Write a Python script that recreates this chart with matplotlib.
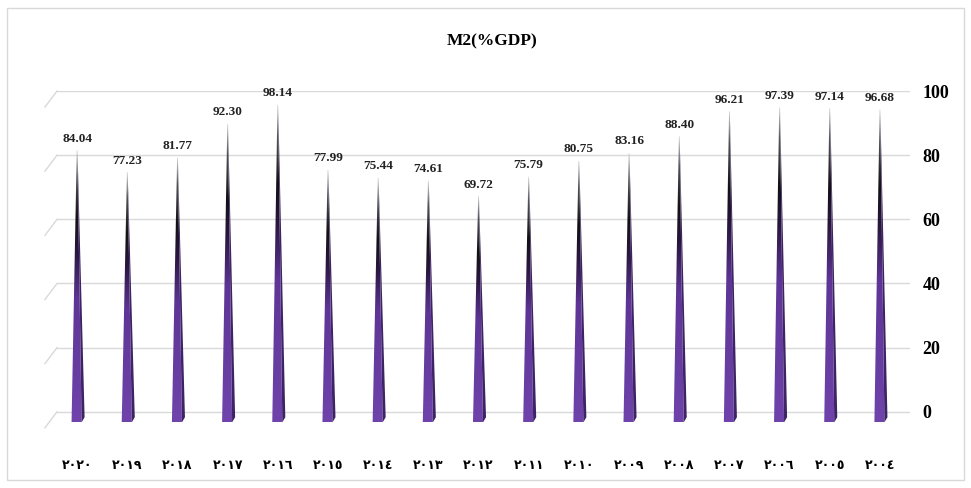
import matplotlib.pyplot as plt
import numpy as np
from matplotlib.colors import LinearSegmentedColormap
from matplotlib.patches import Polygon, Rectangle

# Data
years = [2020, 2019, 2018, 2017, 2016, 2015, 2014, 2013, 2012,
         2011, 2010, 2009, 2008, 2007, 2006, 2005, 2004]
m2_gdp = [84.04, 77.23, 81.77, 92.30, 98.14, 77.99, 75.44, 74.61, 69.72,
          75.79, 80.75, 83.16, 88.40, 96.21, 97.39, 97.14, 96.68]
y_ticks = [0, 20, 40, 60, 80, 100]

# Arabic-Indic digits for the year labels
arabic_digits = str.maketrans("0123456789", "٠١٢٣٤٥٦٧٨٩")
year_labels = [str(y).translate(arabic_digits) for y in years]

serif = ['Liberation Serif', 'DejaVu Serif']
arab_font = ['DejaVu Sans']

fig = plt.figure(figsize=(9.71, 4.88), dpi=100)
ax = fig.add_axes([0.0587, 0.1332, 0.8785, 0.6803])

# outer frame
fig.patches.append(Rectangle((0.007, 0.016), 0.986, 0.968, transform=fig.transFigure,
                             fill=False, edgecolor='#d9d9d9', linewidth=1))

x = np.arange(len(years))
ax.set_xlim(-0.4, len(years) - 0.4)
ax.set_ylim(-3.5, 100)

# back-wall gridlines with the little 3D side edge on the left
for t in y_ticks:
    ax.plot([-0.4, len(years) - 0.4], [t, t], color='#d9d9d9', lw=1.0, zorder=0)
    ax.plot([-0.4, -0.64], [t, t - 5], color='#d9d9d9', lw=1.0, zorder=0, clip_on=False)

# gradient for the cones: purple base, black middle, grey tip
cmap = LinearSegmentedColormap.from_list(
    'cone', [(0.0, '#6f43ab'), (0.45, '#5e3596'), (0.62, '#2a1740'),
             (0.75, '#111111'), (0.9, '#555555'), (1.0, '#cfcfcf')])
grad = np.linspace(0, 1, 256).reshape(-1, 1)

base = -3.3
for xi, v in zip(x, m2_gdp):
    top = v - 2.5
    front = Polygon([(xi - 0.11, base), (xi + 0.09, base), (xi + 0.006, top),
                     (xi - 0.006, top)], closed=True, facecolor='none', edgecolor='none')
    ax.add_patch(front)
    im = ax.imshow(grad, cmap=cmap, aspect='auto', origin='lower',
                   extent=[xi - 0.12, xi + 0.1, base, top], zorder=2)
    im.set_clip_path(front)
    side = Polygon([(xi + 0.09, base), (xi + 0.15, base + 1.6), (xi + 0.008, top)],
                   closed=True, facecolor='#3e2366', edgecolor='none', zorder=2)
    ax.add_patch(side)
    ax.annotate(f"{v:.2f}", (xi, top), xytext=(0, 4), textcoords='offset points',
                ha='center', va='bottom', fontsize=9.5, fontweight='bold',
                family=serif, color='#222222')

# axes styling
for s in ax.spines.values():
    s.set_visible(False)
ax.yaxis.tick_right()
ax.set_yticks(y_ticks)
ax.set_yticklabels([str(t) for t in y_ticks], fontsize=13, fontweight='bold',
                   family=serif)
ax.tick_params(axis='y', length=0, pad=9)
ax.set_xticks(x)
ax.set_xticklabels(year_labels, fontsize=9, fontweight='bold', family=arab_font)
ax.tick_params(axis='x', length=0, pad=26)

fig.text(0.507, 0.915, "M2(%GDP)", ha='center', va='center', fontsize=12.5,
         fontweight='bold', family=serif)

fig.savefig('out.png', dpi=100)
